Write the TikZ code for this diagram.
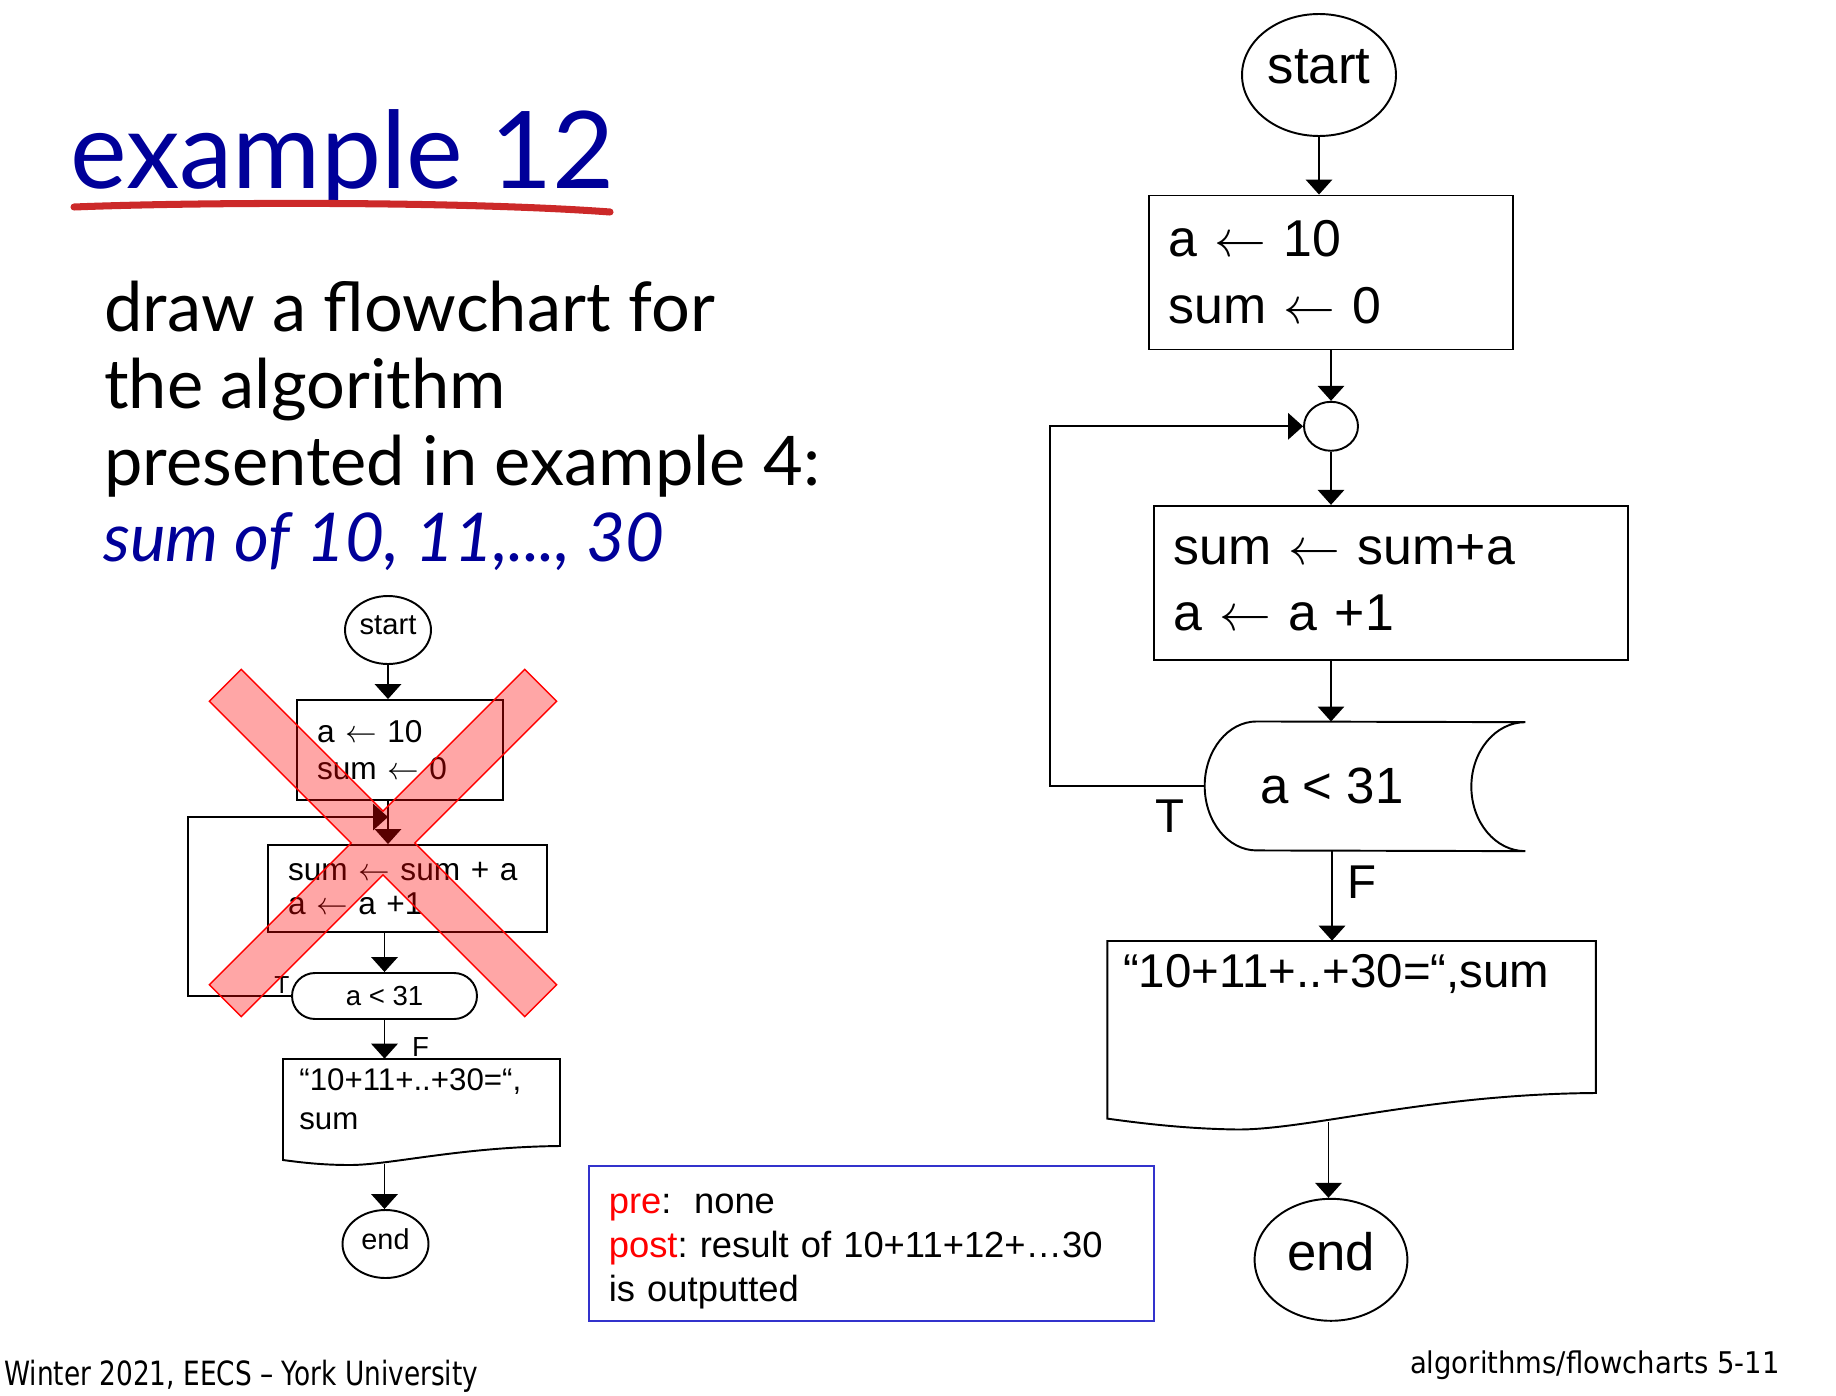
\RequirePackage{fix-cm}
\documentclass[tikz,border=0pt]{standalone}
\usepackage{graphicx}
\usepackage{fontspec}
\setmainfont{Liberation Sans}
\newfontfamily\gillfont{Lato}
\newfontfamily\footfont{DejaVu Sans}
\usetikzlibrary{arrows.meta,shapes.geometric,shapes.misc,calc}
\definecolor{titleblue}{RGB}{0,0,153}
\definecolor{underred}{RGB}{204,41,41}
\definecolor{boxblue}{RGB}{51,51,204}
\definecolor{prered}{RGB}{255,0,0}
\frenchspacing

\begin{document}
\begin{tikzpicture}[x=0.02cm,y=0.02cm,
  line/.style={line width=1.1pt},
  arr/.style={line width=1.1pt,-{Triangle[length=8.5pt,width=15pt]}},
  bigbox/.style={draw,line width=1.1pt,rectangle,inner xsep=0.4cm,inner ysep=0pt,align=left,
    font=\fontsize{29.5}{38}\selectfont},
  smallbox/.style={draw,line width=1.1pt,rectangle,inner xsep=0.4cm,inner ysep=0pt,align=left},
  bigterm/.style={draw,ellipse,line width=1.1pt,inner sep=0pt,text depth=10pt,
    font=\fontsize{30}{36}\selectfont},
  smallterm/.style={draw,ellipse,line width=1.1pt,inner sep=0pt,text depth=6pt,
    font=\fontsize{16.6}{20}\selectfont},
  plain/.style={inner sep=0pt},
  cross/.style={draw=red,fill=red,fill opacity=0.35,line width=0.8pt,line join=miter}
]
\useasboundingbox (0,0) rectangle (1836,-1396);

% ---------------- heading and task text ----------------
\node[plain,anchor=base west,text=titleblue,font=\gillfont\fontsize{61}{61}\selectfont]
  (title) at (70,-188) {example 12};
\draw[underred,line width=4pt,line cap=round]
  (74,-207) .. controls (200,-202) and (460,-201) .. (610,-212);

\node[plain,anchor=base west,font=\gillfont\fontsize{39}{46}\selectfont] (task1) at (104,-331.7) {draw a flowchart for};
\node[plain,anchor=base west,font=\gillfont\fontsize{39}{46}\selectfont] (task2) at (104,-408) {the algorithm};
\node[plain,anchor=base west,font=\gillfont\fontsize{39}{46}\selectfont] (task3) at (104,-485) {presented in example 4:};
\node[plain,anchor=base west,text=titleblue,font=\gillfont\itshape\fontsize{38.3}{46}\selectfont] (task4) at (103,-561.7) {sum of 10, 11,..., 30};

% ---------------- small (rejected) flowchart ----------------
\node[smallterm,minimum width=1.72cm,minimum height=1.36cm] (lstart) at (388,-630) {start};
\node[smallbox,minimum width=4.12cm,minimum height=2.0cm,text width=3.32cm,
  font=\fontsize{18}{21}\selectfont] (lbox1) at (400,-750)
  {a $\leftarrow$ 10\\sum $\leftarrow$ 0};
\node[smallbox,minimum width=5.58cm,minimum height=1.74cm,text width=4.78cm,
  font=\fontsize{18}{19.3}\selectfont] (lbox2) at (407.5,-888.5)
  {sum $\leftarrow$ sum + a\\a $\leftarrow$ a +1};
\node[draw,rounded rectangle,line width=1.1pt,inner sep=0pt,minimum width=3.7cm,minimum height=0.92cm,
  font=\fontsize{15.7}{18}\selectfont] (ldec) at (384.5,-996) {a < 31};
\node[plain,font=\fontsize{14}{16}\selectfont] (lT) at (282,-985) {T};
\node[plain,font=\fontsize{15.7}{18}\selectfont] (lF) at (420.5,-1047) {F};

% output (document) symbol
\node[plain,minimum width=5.54cm,minimum height=2.02cm] (ldoc) at (421.5,-1109.5) {};
\draw[line] (283,-1160) -- (283,-1059) -- (560,-1059) -- (560,-1146)
  .. controls (460,-1147) and (390,-1165) .. (350,-1165)
  .. controls (325,-1165) and (305,-1163) .. cycle;
\node[plain,anchor=base west,font=\fontsize{17.8}{20}\selectfont] (ldoct1) at (299,-1090) {“10+11+..+30=“,};
\node[plain,anchor=base west,font=\fontsize{17.8}{20}\selectfont] (ldoct2) at (299,-1129) {sum};
\node[smallterm,minimum width=1.72cm,minimum height=1.36cm,font=\fontsize{16.4}{20}\selectfont] (lend) at (385.5,-1244) {end};

\coordinate (ljoin) at (388,-817);
\coordinate (lloopx) at (188,-900);
\coordinate (ldocb) at (384.5,-1164);
\draw[arr] (lstart.south) -- (lstart.south |- lbox1.north);
\draw[arr] (ljoin |- lbox1.south) -- (ljoin |- lbox2.north);
\draw[arr] (ldec.west) -- (ldec.west -| lloopx) |- (ljoin);
\draw[arr] (ldec |- lbox2.south) -- (ldec.north);
\draw[arr] (ldec.south) -- (ldec.south |- ldoc.north);
\draw[arr] (ldocb) -- (ldocb |- lend.north);

% crossing-out mark
\begin{scope}[shift={(383,-843)}]
\path[cross] (0,31.8) -- (141.8,173.6) -- (173.6,141.8) -- (31.8,0) -- (173.6,-141.8)
  -- (141.8,-173.6) -- (0,-31.8) -- (-141.8,-173.6) -- (-173.6,-141.8) -- (-31.8,0)
  -- (-173.6,141.8) -- (-141.8,173.6) -- cycle;
\end{scope}

% ---------------- large flowchart ----------------
\node[bigterm,minimum width=3.08cm,minimum height=2.44cm] (rstart) at (1319,-75) {start};
\node[bigbox,minimum width=7.29cm,minimum height=3.08cm,text width=6.49cm] (rbox1) at (1330.75,-272.5)
  {a $\leftarrow$ 10\\sum $\leftarrow$ 0};
\node[draw,ellipse,line width=1.1pt,inner sep=0pt,minimum width=1.08cm,minimum height=0.98cm] (rcirc) at (1331,-426.3) {};
\node[bigbox,minimum width=9.484cm,minimum height=3.08cm,text width=8.684cm] (rbox2) at (1390.6,-582.8)
  {sum $\leftarrow$ sum+a\\a $\leftarrow$ a +1};

% decision symbol: rounded left end, hollow right end
\node[plain,minimum width=6.4cm,minimum height=2.58cm] (rdec) at (1365,-786.3) {};
\draw[line] ($(rdec.north west)+(52,0)$) arc[start angle=90,end angle=270,x radius=1.04cm,y radius=1.29cm]
  -- (rdec.south east) arc[start angle=270,end angle=90,x radius=1.08cm,y radius=1.29cm] -- cycle;
\node[plain,font=\fontsize{29}{34}\selectfont] (rdect) at (1332,-786.3) {a < 31};
\node[plain,font=\fontsize{27}{32}\selectfont] (rT) at (1170,-816) {T};
\node[plain,font=\fontsize{27}{32}\selectfont] (rF) at (1362,-882) {F};

% output (document) symbol
\node[plain,minimum width=9.77cm,minimum height=3.552cm] (rdoc) at (1351.55,-1029.8) {};
\draw[line] (1107.3,-1118.6) -- (1107.3,-941) -- (1595.8,-941) -- (1595.8,-1093)
  .. controls (1430,-1094) and (1310,-1129.5) .. (1238,-1129.5)
  .. controls (1200,-1129) and (1160,-1126) .. cycle;
\node[plain,anchor=base west,font=\fontsize{27}{32}\selectfont] (rdoct) at (1122.7,-987.4) {“10+11+..+30=“,sum};
\node[bigterm,minimum width=3.056cm,minimum height=2.44cm] (rend) at (1331,-1259.8) {end};

\coordinate (rloopx) at (1049.6,-600);
\coordinate (rdocb) at (1328.5,-1122);
\draw[arr] (rstart.south) -- (rstart.south |- rbox1.north);
\draw[arr] (rcirc.north |- rbox1.south) -- (rcirc.north);
\draw[arr] (rcirc.south) -- (rcirc.south |- rbox2.north);
\draw[arr] (rcirc |- rbox2.south) -- (rcirc |- rdec.north);
\draw[arr] (rdec.west) -- (rdec.west -| rloopx) |- (rcirc.west);
\draw[arr] (rdect |- rdec.south) -- (rdect |- rdoc.north);
\draw[arr] (rdocb) -- (rdocb |- rend.north);

% ---------------- pre/post conditions ----------------
\node[draw=boxblue,line width=1.1pt,minimum width=11.31cm,minimum height=3.106cm,inner xsep=0.406cm,
  text width=10.498cm,align=left,font=\fontsize{20.7}{25}\selectfont] (cond) at (871.25,-1243.35)
  {\rule{0pt}{20pt}\textcolor{prered}{pre}:\hspace*{0.62em}none\\\textcolor{prered}{post}: result of 10+11+12+…30\\is outputted};

% ---------------- footers ----------------
\node[plain,anchor=base west,font=\footfont\fontsize{19}{22}\selectfont] (footl) at (4,-1385)
  {\scalebox{0.79}[1]{Winter 2021, EECS – York University}};
\node[plain,anchor=base east,font=\footfont\fontsize{17}{20}\selectfont] (footr) at (1780,-1373)
  {\scalebox{0.92}[1]{algorithms/flowcharts 5-11}};
\end{tikzpicture}
\end{document}
